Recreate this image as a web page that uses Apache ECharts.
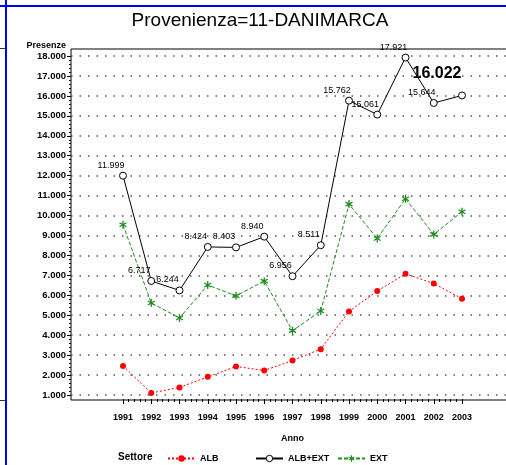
<!DOCTYPE html>
<html>
<head>
<meta charset="utf-8">
<title>Provenienza=11-DANIMARCA</title>
<script src="https://cdn.jsdelivr.net/npm/echarts@6/dist/echarts.min.js"></script>
<style>
  html, body { margin: 0; padding: 0; background: #fff; }
  #main { width: 506px; height: 465px; }
</style>
</head>
<body>
<div id="main"></div>
<script>
// valori
const years = [1991, 1992, 1993, 1994, 1995, 1996, 1997, 1998, 1999, 2000, 2001, 2002, 2003];
const alb = [2460, 1100, 1380, 1910, 2430, 2230, 2730, 3300, 5190, 6210, 7080, 6590, 5830];
const albExt = [11999, 6717, 6244, 8424, 8403, 8940, 6956, 8511, 15762, 15061, 17921, 15644, 16022];
const ext = [9539, 5617, 4864, 6514, 5973, 6710, 4226, 5211, 10572, 8851, 10841, 9054, 10192];
const yMin = 1000, yMax = 18000, yStep = 1000;

const FONT = "'Liberation Sans', Arial, sans-serif";

// separatore migliaia all'italiana
function fmt(v) {
  return String(Math.round(v)).replace(/\B(?=(\d{3})+(?!\d))/g, '.');
}

// asterisco per la serie EXT
const STAR = 'path://M-0.8,-5L0.8,-5L0.8,5L-0.8,5Z' +
  'M3.93,3.19L-4.73,-1.81L-3.93,-3.19L4.73,1.81Z' +
  'M-4.73,1.81L3.93,-3.19L4.73,-1.81L-3.93,3.19Z';

const chart = echarts.init(document.getElementById('main'), null, { renderer: 'canvas' });

const last = years.length - 1;
const albExtData = years.map((y, i) => {
  if (i === last) {
    // ultimo valore evidenziato in grande
    return { value: [y, albExt[i]], label: { fontSize: 16, fontWeight: 'bold', offset: [-25, -5] } };
  }
  return [y, albExt[i]];
});

const option = {
  animation: false,
  backgroundColor: '#fff',
  grid: [
    // cornice (bordo destro fuori tela)
    { left: 71, right: -20, top: 49, bottom: 65, show: true, borderColor: '#000', borderWidth: 1, backgroundColor: 'transparent', outerBoundsMode: 'none' },
    // griglia punteggiata
    { left: 71, right: -20, top: 56, bottom: 70, outerBoundsMode: 'none' },
    // dati
    { left: 123, right: 44, top: 56, bottom: 70, outerBoundsMode: 'none' }
  ],
  xAxis: [
    { gridIndex: 0, type: 'value', min: 0, max: 1, show: false },
    { gridIndex: 1, type: 'value', min: 0, max: 1, show: false },
    {
      gridIndex: 2, type: 'value', min: years[0], max: years[last], interval: 1,
      position: 'bottom', offset: 4,
      name: 'Anno', nameLocation: 'middle', nameGap: 35,
      nameTextStyle: { fontFamily: FONT, fontSize: 9, fontWeight: 'bold', color: '#000' },
      axisLine: { show: false },
      axisTick: { show: true, length: 5, lineStyle: { color: '#000' } },
      minorTick: { show: true, splitNumber: 5, length: 3, lineStyle: { color: '#000' } },
      splitLine: { show: false },
      axisLabel: { margin: 14, fontFamily: FONT, fontSize: 9, fontWeight: 'bold', color: '#000', formatter: v => String(v) }
    }
  ],
  yAxis: [
    { gridIndex: 0, type: 'value', min: 0, max: 1, show: false },
    {
      gridIndex: 1, type: 'value', min: yMin, max: yMax, interval: yStep,
      axisLine: { show: false }, axisTick: { show: false }, axisLabel: { show: false },
      splitLine: { show: true, lineStyle: { color: '#555', width: 1.5, type: [1.5, 7] } }
    },
    {
      gridIndex: 2, type: 'value', min: yMin, max: yMax, interval: yStep,
      position: 'left', offset: 52,
      axisLine: { show: false },
      axisTick: { show: true, length: 4, lineStyle: { color: '#000' } },
      minorTick: { show: true, splitNumber: 5, length: 2, lineStyle: { color: '#000' } },
      splitLine: { show: false },
      axisLabel: { margin: 5, fontFamily: FONT, fontSize: 9.5, fontWeight: 'bold', color: '#000', formatter: fmt }
    }
  ],
  legend: [
    { data: ['ALB'], left: 162, top: 449 },
    { data: ['ALB+EXT'], left: 250, top: 449 },
    { data: ['EXT'], left: 332, top: 449 }
  ].map(l => Object.assign(l, {
    itemWidth: 27, itemHeight: 8, itemGap: 5,
    itemStyle: { borderWidth: 1 },
    textStyle: { fontFamily: FONT, fontSize: 9, fontWeight: 'bold', color: '#000' }
  })),
  series: [
    {
      name: 'ALB', type: 'line', xAxisIndex: 2, yAxisIndex: 2,
      data: years.map((y, i) => [y, alb[i]]),
      symbol: 'circle', symbolSize: 6,
      itemStyle: { color: '#ff0000' },
      lineStyle: { color: '#ff0000', width: 1, type: [2, 2] }
    },
    {
      name: 'ALB+EXT', type: 'line', xAxisIndex: 2, yAxisIndex: 2,
      data: albExtData,
      symbol: 'circle', symbolSize: 7, z: 3,
      itemStyle: { color: '#fff', borderColor: '#000', borderWidth: 1 },
      lineStyle: { color: '#000', width: 1 },
      label: {
        show: true, position: 'top', distance: 5, offset: [-12, 3],
        fontFamily: FONT, fontSize: 9, color: '#000',
        formatter: p => fmt(p.value[1])
      }
    },
    {
      name: 'EXT', type: 'line', xAxisIndex: 2, yAxisIndex: 2,
      data: years.map((y, i) => [y, ext[i]]),
      symbol: STAR, symbolSize: 8, symbolKeepAspect: true,
      itemStyle: { color: '#1e8c1e' },
      lineStyle: { color: '#1e8c1e', width: 1, type: [4, 2] }
    }
  ],
  graphic: [
    // bordi blu della pagina
    { type: 'line', shape: { x1: 6, y1: 0, x2: 6, y2: 465 }, style: { stroke: '#0000ff', lineWidth: 2 }, silent: true },
    { type: 'line', shape: { x1: 0, y1: 6, x2: 506, y2: 6 }, style: { stroke: '#0000ff', lineWidth: 2 }, silent: true },
    { type: 'line', shape: { x1: 0, y1: 48.5, x2: 6, y2: 48.5 }, style: { stroke: '#333', lineWidth: 1 }, silent: true },
    { type: 'line', shape: { x1: 0, y1: 400.5, x2: 6, y2: 400.5 }, style: { stroke: '#333', lineWidth: 1 }, silent: true },
    // testi
    { type: 'text', x: 260, y: 21, style: { text: 'Provenienza=11-DANIMARCA', fontFamily: FONT, fontSize: 19, fill: '#000', textAlign: 'center', textVerticalAlign: 'middle' } },
    { type: 'text', x: 66, y: 45.5, style: { text: 'Presenze', fontFamily: FONT, fontSize: 9, fontWeight: 'bold', fill: '#000', textAlign: 'right', textVerticalAlign: 'middle' } },
    { type: 'text', x: 118, y: 457, style: { text: 'Settore', fontFamily: FONT, fontSize: 10, fontWeight: 'bold', fill: '#000', textAlign: 'left', textVerticalAlign: 'middle' } }
  ]
};

chart.setOption(option);
</script>
</body>
</html>
